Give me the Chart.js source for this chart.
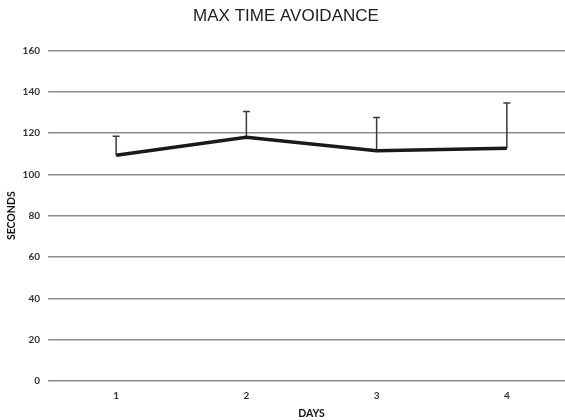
<!doctype html>
<html>

<head>
    <title>Max time avoidance</title>
    <script src="https://cdn.jsdelivr.net/npm/chart.js"></script>
    <style>
        body { margin: 0; background: #fff; overflow: hidden; }
    </style>
</head>

<body>
    <div style="width: 565px; height: 420px; overflow: hidden;">
        <canvas id="grafico" width="572" height="420"></canvas>
    </div>

    <script>
        // dados
        var dias = ['1', '2', '3', '4'];
        var segundos = [109.3, 118.0, 111.4, 112.6];
        var erroSuperior = [118.5, 130.4, 127.5, 134.5];
        var ticksY = [0, 20, 40, 60, 80, 100, 120, 140, 160];

        // barras de erro (so para cima), desenhadas pela escala do grafico
        var barrasErro = {
            id: 'barrasErro',
            beforeDatasetsDraw(chart) {
                var ctx = chart.ctx;
                var x = chart.scales.x;
                var y = chart.scales.y;
                ctx.save();
                ctx.strokeStyle = '#3a3a3a';
                ctx.lineWidth = 1.5;
                erroSuperior.forEach((topo, i) => {
                    var px = x.getPixelForValue(i);
                    var base = y.getPixelForValue(segundos[i]);
                    var alto = y.getPixelForValue(topo);
                    ctx.beginPath();
                    ctx.moveTo(px, base);
                    ctx.lineTo(px, alto);
                    ctx.moveTo(px - 3.5, alto);
                    ctx.lineTo(px + 3.5, alto);
                    ctx.stroke();
                });
                ctx.restore();
            }
        };

        var grafico = new Chart(document.getElementById('grafico').getContext('2d'), {
            type: 'line',
            data: {
                labels: dias,
                datasets: [{
                    label: 'Seconds',
                    borderColor: '#1a1a1a',
                    borderWidth: 3.5,
                    pointRadius: 0,
                    tension: 0,
                    data: segundos
                }]
            },
            options: {
                responsive: false,
                animation: false,
                layout: {
                    padding: { top: 0, right: 0, bottom: 0, left: 0 }
                },
                plugins: {
                    legend: { display: false },
                    tooltip: { enabled: false },
                    title: {
                        display: true,
                        text: 'MAX TIME AVOIDANCE',
                        color: '#222',
                        font: { family: 'Liberation Sans', size: 17, weight: 'normal' },
                        padding: { top: 6, bottom: 24 }
                    }
                },
                scales: {
                    x: {
                        offset: true,
                        grid: { display: false },
                        border: { display: false },
                        ticks: {
                            color: '#333',
                            font: { family: 'Lato', size: 10, weight: 'bold' },
                            padding: 1
                        },
                        title: {
                            display: true,
                            text: 'DAYS',
                            color: '#111',
                            font: { family: 'Lato', size: 10.5, weight: 'bold' },
                            padding: { top: 5, bottom: 0 }
                        },
                        afterFit(scale) { scale.height = 39; }
                    },
                    y: {
                        min: 0,
                        max: 160,
                        afterBuildTicks(scale) {
                            scale.ticks = ticksY.map(v => ({ value: v }));
                        },
                        grid: {
                            color: '#8c8c8c',
                            lineWidth: 1.5,
                            drawTicks: true,
                            tickLength: 3
                        },
                        border: { display: false },
                        ticks: {
                            color: '#333',
                            font: { family: 'Lato', size: 10, weight: 'bold' },
                            padding: 8
                        },
                        title: {
                            display: true,
                            text: 'SECONDS',
                            color: '#111',
                            font: { family: 'Lato', size: 10.5, weight: 'bold' },
                            padding: { top: 5, bottom: 0 }
                        },
                        afterFit(scale) { scale.width = 51; }
                    }
                }
            },
            plugins: [barrasErro]
        });
    </script>
</body>

</html>
